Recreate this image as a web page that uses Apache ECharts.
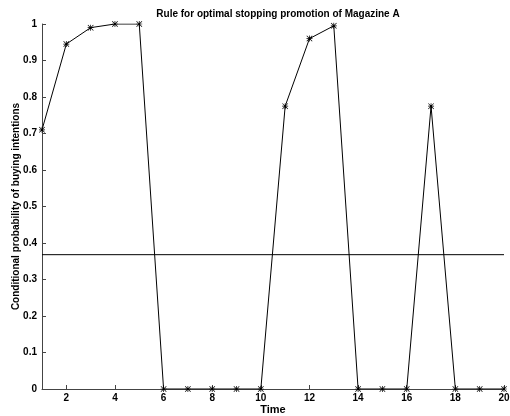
<!DOCTYPE html>
<html>
<head>
<meta charset="utf-8">
<script src="https://cdn.jsdelivr.net/npm/echarts@6/dist/echarts.min.js"></script>
<style>
    html, body { margin: 0; padding: 0; background: #fff; }
    #chart { width: 510px; height: 416px; }
</style>
</head>
<body>
<div id="chart"></div>
<script>
var times = [1, 2, 3, 4, 5, 6, 7, 8, 9, 10, 11, 12, 13, 14, 15, 16, 17, 18, 19, 20];
var probability = [0.71, 0.945, 0.99, 1.0, 1.0, 0, 0, 0, 0, 0, 0.775, 0.96, 0.995, 0, 0, 0, 0.775, 0, 0, 0];
var threshold = [0.368];
var xTicks = [2, 4, 6, 8, 10, 12, 14, 16, 18, 20];

// asterisk marker like matlab '*'
var star = 'path://M4.4 0L5.6 0L5.6 10L4.4 10Z M0 4.4L10 4.4L10 5.6L0 5.6Z ' +
    'M0.8 0L10 9.2L9.2 10L0 0.8Z M9.2 0L10 0.8L0.8 10L0 9.2Z';

var font = 'Liberation Sans, Arial, sans-serif';

var myChart = echarts.init(document.getElementById('chart'));
myChart.setOption({
    animation: false,
    title: {
        text: 'Rule for optimal stopping promotion of Magazine A',
        left: 273,
        textAlign: 'center',
        top: 4,
        textStyle: { fontFamily: font, fontSize: 10, fontWeight: 'bold', color: '#000' }
    },
    grid: { left: 42, right: 6, top: 24, bottom: 27, outerBoundsMode: 'none' },
    xAxis: {
        type: 'value',
        min: 1,
        max: 20,
        name: 'Time',
        nameLocation: 'middle',
        nameGap: 15,
        nameMoveOverlap: false,
        nameTextStyle: { fontFamily: font, fontSize: 11, fontWeight: 'bold', color: '#000' },
        axisLine: { lineStyle: { color: '#444', width: 1 } },
        axisTick: { inside: true, length: 4, customValues: xTicks, lineStyle: { color: '#444' } },
        axisLabel: {
            customValues: xTicks,
            margin: 4,
            fontFamily: font, fontSize: 10, fontWeight: 'bold', color: '#000'
        },
        splitLine: { show: false }
    },
    yAxis: {
        type: 'value',
        min: 0,
        max: 1,
        interval: 0.1,
        name: 'Conditional probability of buying intentions',
        nameLocation: 'middle',
        nameGap: 21,
        nameMoveOverlap: false,
        nameTextStyle: { fontFamily: font, fontSize: 10, fontWeight: 'bold', color: '#000' },
        axisLine: { show: true, lineStyle: { color: '#444', width: 1 } },
        axisTick: { show: true, inside: true, length: 4, lineStyle: { color: '#444' } },
        axisLabel: {
            margin: 5,
            fontFamily: font, fontSize: 10, fontWeight: 'bold', color: '#000',
            formatter: function(v) { return String(+v.toFixed(1)); }
        },
        splitLine: { show: false }
    },
    series: [
        {
            type: 'line',
            data: times.map(function(t, i) { return [t, probability[i]]; }),
            symbol: star,
            symbolSize: 6,
            showAllSymbol: true,
            lineStyle: { color: '#000', width: 1 },
            itemStyle: { color: '#000' }
        },
        {
            type: 'line',
            data: [[times[0], threshold[0]], [times[times.length - 1], threshold[0]]],
            symbol: 'none',
            lineStyle: { color: '#000', width: 1 }
        }
    ]
});
</script>
</body>
</html>
